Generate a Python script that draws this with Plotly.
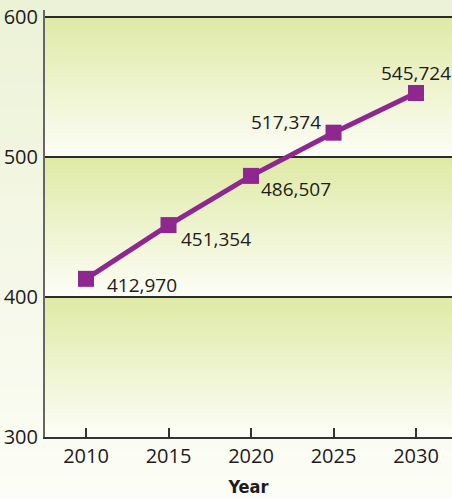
import plotly.graph_objects as go

years = [2010, 2015, 2020, 2025, 2030]
values = [412970, 451354, 486507, 517374, 545724]
labels = ["412,970", "451,354", "486,507", "517,374", "545,724"]
y_ticks = [300, 400, 500, 600]
x_title = "Year"

vals_k = [v / 1000 for v in values]

# label placement: (xanchor, yanchor, xshift, yshift)
label_pos = [
    ("left", "middle", 19, -6),
    ("left", "middle", 10, -14),
    ("left", "middle", 8, -13),
    ("right", "middle", -11, 11),
    ("center", "middle", 0, 20),
]

def lerp(c1, c2, t):
    return "rgb(%d,%d,%d)" % tuple(round(a + (b - a) * t) for a, b in zip(c1, c2))

shapes = []
# outer background gradient (paper coords)
outer_top = (236, 242, 214)
outer_bot = (252, 253, 246)
n = 40
y_lo, y_hi = -0.15, 1.03
for i in range(n):
    t = i / (n - 1)
    y1 = y_hi - (y_hi - y_lo) * i / n
    y0 = y_hi - (y_hi - y_lo) * (i + 1) / n
    shapes.append(dict(type="rect", xref="paper", yref="paper", x0=-0.2, x1=1.05,
                       y0=y0, y1=y1 + 0.002, fillcolor=lerp(outer_top, outer_bot, t),
                       line=dict(width=0), layer="below"))

# band gradients between gridlines
band_top = (223, 234, 166)
band_bot = (252, 253, 245)
m = 30
for b0 in y_ticks[:-1]:
    for i in range(m):
        t = i / (m - 1)
        y1 = b0 + 100 - 100 * i / m
        y0 = b0 + 100 - 100 * (i + 1) / m
        shapes.append(dict(type="rect", xref="paper", yref="y", x0=0, x1=1,
                           y0=y0, y1=min(y1 + 0.3, b0 + 100), fillcolor=lerp(band_top, band_bot, t),
                           line=dict(width=0), layer="below"))

fig = go.Figure()
fig.add_trace(go.Scatter(
    x=years, y=vals_k, mode="lines+markers",
    line=dict(color="#8e278f", width=5),
    marker=dict(symbol="square", size=16, color="#8e278f"),
    hoverinfo="skip", showlegend=False,
))

FONT = "Open Sans, Noto Sans, sans-serif"
annotations = []
for x, y, lab, (xa, ya, xs, ys) in zip(years, vals_k, labels, label_pos):
    annotations.append(dict(x=x, y=y, text=lab, showarrow=False, xanchor=xa, yanchor=ya,
                            xshift=xs, yshift=ys,
                            font=dict(family=FONT, size=19, color="#1e1b1c")))

fig.update_layout(
    width=452, height=498,
    margin=dict(l=45, r=0, t=10, b=61),
    paper_bgcolor="#f4f7e6",
    plot_bgcolor="rgba(0,0,0,0)",
    shapes=shapes,
    annotations=annotations,
    font=dict(family=FONT, size=20, color="#1e1b1c"),
    xaxis=dict(
        range=[2007.515, 2032.18], tickvals=years, ticks="inside", ticklen=9,
        tickcolor="#333", tickwidth=1.5, showgrid=False, zeroline=False,
        showline=True, linecolor="#333", linewidth=2, automargin=False,
        tickfont=dict(size=20, color="#1e1b1c"),
        title=dict(text="<b>" + x_title + "</b>", standoff=12,
                   font=dict(family="DejaVu Sans Condensed, Liberation Sans Narrow, Roboto, sans-serif",
                             size=18, color="#1e1b1c")),
    ),
    yaxis=dict(
        range=[300, 605], tickvals=y_ticks, ticks="", showgrid=True,
        gridcolor="#2b2b2b", gridwidth=1.5, zeroline=False, automargin=False,
        showline=True, linecolor="#666", linewidth=2,
        tickfont=dict(size=20, color="#1e1b1c"), ticklabelstandoff=1,
    ),
)

fig.write_html("out.html", config={"displayModeBar": False},
               post_script="document.body.style.margin='0';document.body.style.overflow='hidden';")
